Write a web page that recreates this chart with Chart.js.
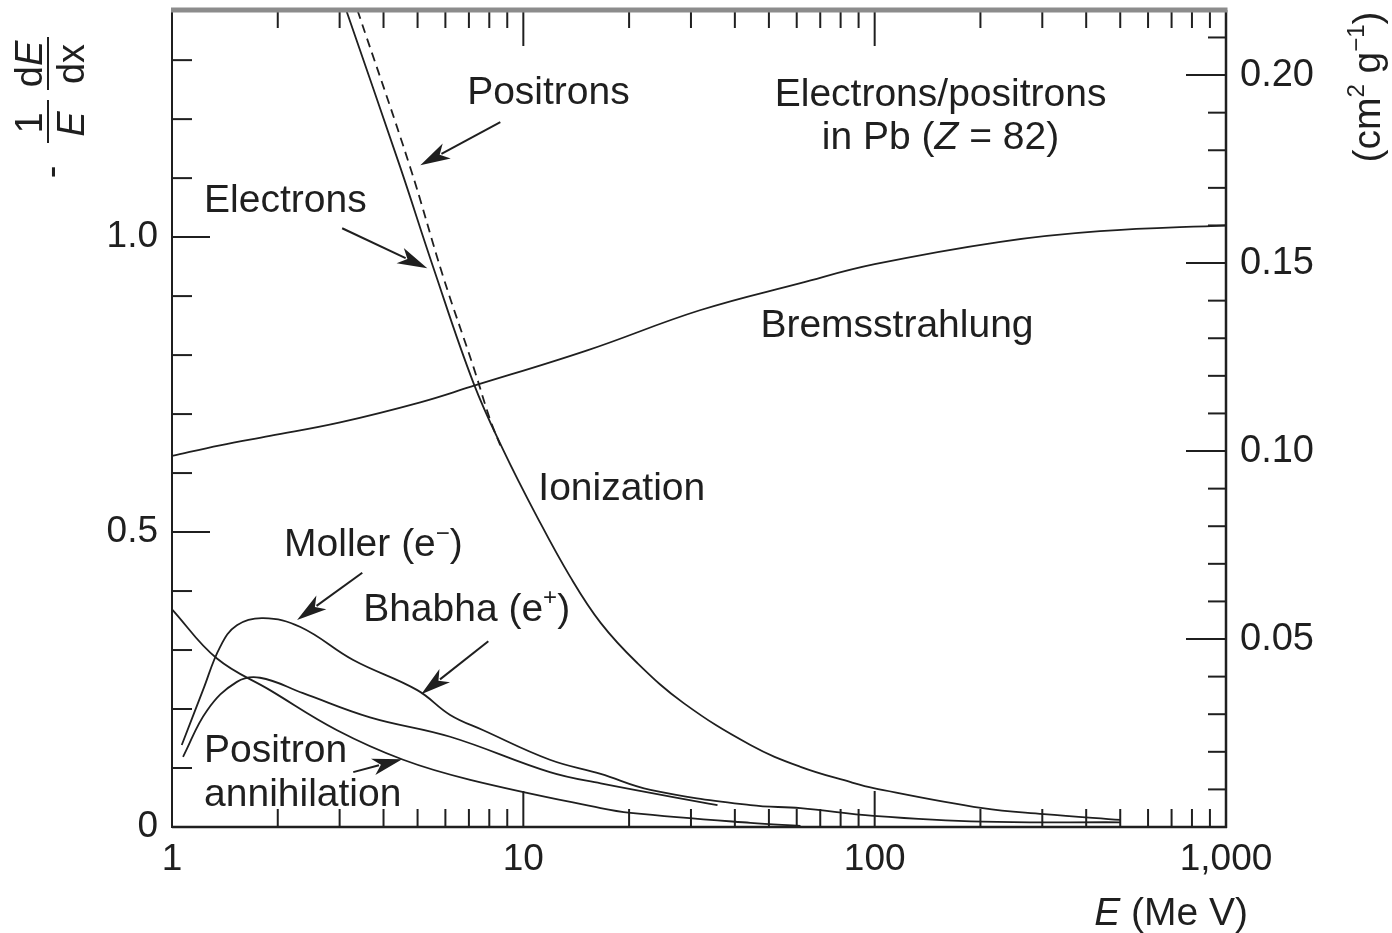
<!DOCTYPE html>
<html lang="en">
<head>
<meta charset="UTF-8">
<title>Electrons/positrons in Pb - fractional energy loss</title>
<style>
  body { margin: 0; background: #fff; }
</style>
<script src="https://cdn.jsdelivr.net/npm/chart.js"></script>
</head>
<body>
<canvas id="loss-chart" width="1392" height="933"></canvas>
<script>
// values: E in MeV, y = -(1/E) dE/dx
const ionElecE = [3.11, 4.46, 5.54, 7.21, 8.77, 10.96, 13.6, 16.6, 21.1, 28.6, 44.3, 61.5, 85.5, 99.3, 203, 303, 502];
const ionElecV = [1.39, 1.119, 0.949, 0.753, 0.639, 0.525, 0.424, 0.346, 0.278, 0.210, 0.139, 0.102, 0.076, 0.066, 0.032, 0.022, 0.012];

const ionPosE = [3.37, 4.76, 5.92, 7.21, 8.05, 8.6];
const ionPosV = [1.385, 1.119, 0.932, 0.780, 0.690, 0.647];

const bremE = [1, 1.37, 1.9, 3.01, 5.09, 7.06, 15.2, 31.8, 61.5, 100, 228, 438, 1000];
const bremV = [0.629, 0.647, 0.663, 0.686, 0.720, 0.746, 0.808, 0.876, 0.922, 0.954, 0.992, 1.010, 1.020];

const mollerE = [1.066, 1.225, 1.37, 1.53, 1.82, 2.32, 3.28, 4.99, 6.19, 7.69, 11.9, 16.6, 23.0, 44.3, 61.5, 99.3, 203, 502];
const mollerV = [0.139, 0.232, 0.305, 0.342, 0.354, 0.339, 0.283, 0.232, 0.190, 0.164, 0.114, 0.090, 0.063, 0.037, 0.032, 0.019, 0.009, 0.008];

const bhabhaE = [1.075, 1.26, 1.53, 1.78, 2.36, 3.66, 6.19, 11.9, 16.6, 35.7];
const bhabhaV = [0.119, 0.198, 0.246, 0.253, 0.227, 0.186, 0.153, 0.093, 0.074, 0.037];

const annihE = [1, 1.34, 1.90, 2.95, 4.55, 7.06, 16.6, 20.2, 44.3, 61.5];
const annihV = [0.369, 0.286, 0.232, 0.164, 0.114, 0.080, 0.032, 0.024, 0.007, 0.002];

// axes
const xMajor = [10, 100];
const xMinor = [2, 3, 4, 5, 6, 7, 8, 9, 20, 30, 40, 50, 60, 70, 80, 90, 200, 300, 400, 500, 600, 700, 800, 900];
const yMajor = [0.5, 1.0];
const yMinor = [0.1, 0.2, 0.3, 0.4, 0.6, 0.7, 0.8, 0.9, 1.1, 1.2, 1.3];
const y2Major = [0.05, 0.10, 0.15, 0.20];
const y2Minor = [0.01, 0.02, 0.03, 0.04, 0.06, 0.07, 0.08, 0.09, 0.11, 0.12, 0.13, 0.14, 0.16, 0.17, 0.18, 0.19, 0.21];
const yMax = 1.385;
const y2PerY = 0.1569;   // cm2/g per unit of the left axis

// text on the plot (anchor in data coords: E, y)
const notes = [
  { runs: [['Positrons']], e: 6.92, v: 1.249, align: 'left' },
  { runs: [['Electrons']], e: 1.234, v: 1.066, align: 'left' },
  { runs: [['Electrons/positrons']], e: 154, v: 1.246, align: 'center' },
  { runs: [['in Pb ('], ['Z', 'i'], [' = 82)']], e: 154, v: 1.173, align: 'center' },
  { runs: [['Bremsstrahlung']], e: 47.3, v: 0.854, align: 'left' },
  { runs: [['Ionization']], e: 11.03, v: 0.578, align: 'left' },
  { runs: [['Moller (e'], ['\u2212', 'sup'], [')']], e: 2.085, v: 0.483, align: 'left' },
  { runs: [['Bhabha (e'], ['+', 'sup'], [')']], e: 3.50, v: 0.373, align: 'left' },
  { runs: [['Positron']], e: 1.234, v: 0.134, align: 'left' },
  { runs: [['annihilation']], e: 1.234, v: 0.059, align: 'left' }
];
const arrows = [
  { from: [8.60, 1.195], to: [5.09, 1.122] },
  { from: [3.05, 1.015], to: [5.33, 0.947] },
  { from: [3.48, 0.431], to: [2.27, 0.351] },
  { from: [7.95, 0.315], to: [5.12, 0.225] },
  { from: [3.28, 0.093], to: [4.52, 0.115] }
];

const FONT = '"Liberation Sans", Arial, Helvetica, sans-serif';
const INK = '#1f1f1f';

function pts(es, vs) {
  return es.map((e, i) => ({ x: e, y: vs[i] }));
}

function drawRuns(ctx, runs, x, y, size, align) {
  let total = 0;
  const parts = runs.map(r => {
    const sup = r[1] === 'sup';
    const f = (r[1] === 'i' ? 'italic ' : '') + Math.round(sup ? size * 0.62 : size) + 'px ' + FONT;
    ctx.font = f;
    const w = ctx.measureText(r[0]).width;
    total += w;
    return { t: r[0], f: f, w: w, dy: sup ? -size * 0.4 : 0 };
  });
  let cx = align === 'center' ? x - total / 2 : (align === 'right' ? x - total : x);
  ctx.textAlign = 'left';
  ctx.textBaseline = 'alphabetic';
  parts.forEach(p => {
    ctx.font = p.f;
    ctx.fillText(p.t, cx, y + p.dy);
    cx += p.w;
  });
}

function seg(ctx, x1, y1, x2, y2) {
  ctx.beginPath();
  ctx.moveTo(x1, y1);
  ctx.lineTo(x2, y2);
  ctx.stroke();
}

const decorations = {
  id: 'decorations',
  afterDraw(chart) {
    const ctx = chart.ctx;
    const { left, right, top, bottom } = chart.chartArea;
    const sx = chart.scales.x, sy = chart.scales.y, sy2 = chart.scales.y2;
    ctx.save();
    ctx.strokeStyle = INK;
    ctx.fillStyle = INK;

    // tick marks, all pointing inwards
    ctx.lineWidth = 2;
    xMinor.forEach(e => { const p = sx.getPixelForValue(e); seg(ctx, p, bottom, p, bottom - 18); seg(ctx, p, top, p, top + 18); });
    xMajor.forEach(e => { const p = sx.getPixelForValue(e); seg(ctx, p, bottom, p, bottom - 36); seg(ctx, p, top, p, top + 36); });
    yMinor.forEach(v => { const p = sy.getPixelForValue(v); seg(ctx, left, p, left + 20, p); });
    yMajor.forEach(v => { const p = sy.getPixelForValue(v); seg(ctx, left, p, left + 38, p); });
    y2Minor.forEach(v => { const p = sy2.getPixelForValue(v); seg(ctx, right, p, right - 18, p); });
    y2Major.forEach(v => { const p = sy2.getPixelForValue(v); seg(ctx, right, p, right - 40, p); });

    // frame
    ctx.lineWidth = 2;
    seg(ctx, left, top, left, bottom + 1);
    ctx.lineWidth = 2.5;
    seg(ctx, left, bottom, right + 1, bottom);
    seg(ctx, right, top, right, bottom + 1);
    ctx.strokeStyle = '#8c8c8c';
    ctx.lineWidth = 5;
    seg(ctx, left - 1, top, right + 1.5, top);
    ctx.strokeStyle = INK;

    // notes on the plot
    const size = 39;
    notes.forEach(n => {
      const x = sx.getPixelForValue(n.e);
      const y = sy.getPixelForValue(n.v) + size * 0.36;
      drawRuns(ctx, n.runs, x, y, size, n.align);
    });

    // arrows
    ctx.lineWidth = 2;
    arrows.forEach(a => {
      const x1 = sx.getPixelForValue(a.from[0]), y1 = sy.getPixelForValue(a.from[1]);
      const x2 = sx.getPixelForValue(a.to[0]), y2 = sy.getPixelForValue(a.to[1]);
      const ang = Math.atan2(y2 - y1, x2 - x1);
      const len = 30, half = 8.5;
      const bx = x2 - len * Math.cos(ang), by = y2 - len * Math.sin(ang);
      seg(ctx, x1, y1, bx + 6 * Math.cos(ang), by + 6 * Math.sin(ang));
      ctx.beginPath();
      ctx.moveTo(x2, y2);
      ctx.lineTo(bx - half * Math.sin(ang), by + half * Math.cos(ang));
      ctx.lineTo(bx + 8 * Math.cos(ang), by + 8 * Math.sin(ang));
      ctx.lineTo(bx + half * Math.sin(ang), by - half * Math.cos(ang));
      ctx.closePath();
      ctx.fill();
    });

    // x title
    drawRuns(ctx, [['E', 'i'], [' (Me V)']], 1248, 925, 39, 'right');

    // left title:  -  1/E  dE/dx, rotated
    ctx.save();
    ctx.translate(48, 172);
    ctx.rotate(-Math.PI / 2);
    ctx.lineWidth = 2;
    ctx.font = '38px ' + FONT;
    ctx.textAlign = 'center';
    ctx.textBaseline = 'alphabetic';
    ctx.fillText('-', 0, 16);
    seg(ctx, 29, 0, 72, 0);
    ctx.fillText('1', 49, -6);
    ctx.font = 'italic 38px ' + FONT;
    ctx.fillText('E', 48, 36);
    seg(ctx, 82, 0, 135, 0);
    drawRuns(ctx, [['d'], ['E', 'i']], 108, -6, 38, 'center');
    drawRuns(ctx, [['dx']], 108, 36, 38, 'center');
    ctx.restore();

    // right title (cm2 g-1), rotated
    ctx.save();
    ctx.translate(1380, 87);
    ctx.rotate(-Math.PI / 2);
    drawRuns(ctx, [['(cm'], ['2', 'sup'], [' g'], ['\u22121', 'sup'], [')']], 0, 0, 39, 'center');
    ctx.restore();

    ctx.restore();
  }
};

const lineStyle = {
  borderColor: INK,
  borderWidth: 1.8,
  pointRadius: 0,
  fill: false,
  tension: 0.4
};

const tickFont = { family: FONT, size: 37 };

function noVPad(s) {
  s.paddingTop = 0;
  s.paddingBottom = 0;
}

new Chart(document.getElementById('loss-chart').getContext('2d'), {
  type: 'line',
  data: {
    datasets: [
      { label: 'Ionization (electrons)', data: pts(ionElecE, ionElecV), ...lineStyle },
      { label: 'Ionization (positrons)', data: pts(ionPosE, ionPosV), ...lineStyle, borderDash: [9, 6] },
      { label: 'Bremsstrahlung', data: pts(bremE, bremV), ...lineStyle },
      { label: 'Moller (e-)', data: pts(mollerE, mollerV), ...lineStyle },
      { label: 'Bhabha (e+)', data: pts(bhabhaE, bhabhaV), ...lineStyle },
      { label: 'Positron annihilation', data: pts(annihE, annihV), ...lineStyle }
    ]
  },
  options: {
    responsive: false,
    animation: false,
    devicePixelRatio: 1,
    layout: { padding: { top: 10, left: 0, right: 0, bottom: 0 } },
    plugins: { legend: { display: false }, tooltip: { enabled: false } },
    scales: {
      x: {
        type: 'logarithmic',
        position: 'bottom',
        min: 1,
        max: 1000,
        grid: { display: false, drawTicks: false },
        border: { display: false },
        afterFit: s => { s.height = 106; s.paddingLeft = 0; s.paddingRight = 0; },
        ticks: {
          autoSkip: false,
          maxRotation: 0,
          padding: 11,
          color: INK,
          font: tickFont,
          callback: function (value) {
            const l = Math.log10(value);
            return Math.abs(l - Math.round(l)) < 1e-9 ? Number(value).toLocaleString('en-US') : '';
          }
        }
      },
      y: {
        type: 'linear',
        position: 'left',
        min: 0,
        max: yMax,
        grid: { display: false, drawTicks: false },
        border: { display: false },
        afterFit: s => { s.width = 172; noVPad(s); },
        ticks: {
          stepSize: 0.1,
          autoSkip: false,
          padding: 14,
          color: INK,
          font: tickFont,
          callback: function (value) {
            const k = value * 2;
            if (Math.abs(k - Math.round(k)) > 1e-6 || value > 1.3) return '';
            return Math.abs(value) < 1e-9 ? '0' : value.toFixed(1);
          }
        }
      },
      y2: {
        type: 'linear',
        position: 'right',
        min: 0,
        max: yMax * y2PerY,
        grid: { display: false, drawTicks: false },
        border: { display: false },
        afterFit: s => { s.width = 166; noVPad(s); },
        ticks: {
          stepSize: 0.01,
          autoSkip: false,
          padding: 14,
          color: INK,
          font: { family: FONT, size: 38 },
          callback: function (value) {
            const k = value * 20;
            if (value < 0.01 || Math.abs(k - Math.round(k)) > 1e-6) return '';
            return value.toFixed(2);
          }
        }
      }
    }
  },
  plugins: [decorations]
});
</script>
</body>
</html>
